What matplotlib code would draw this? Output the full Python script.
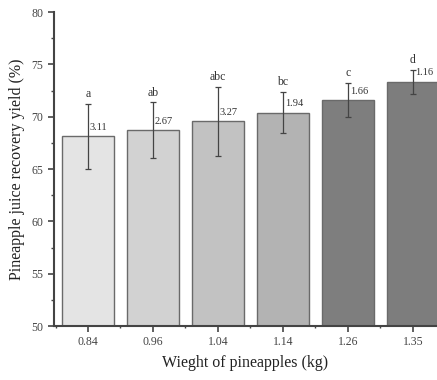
import matplotlib
matplotlib.use('Agg')
import matplotlib.pyplot as plt
from matplotlib.ticker import MultipleLocator

weights = ['0.84', '0.96', '1.04', '1.14', '1.26', '1.35']
yield_mean = [68.15, 68.7, 69.55, 70.4, 71.6, 73.35]
yield_sd = [3.11, 2.67, 3.27, 1.94, 1.66, 1.16]
letters = ['a', 'ab', 'abc', 'bc', 'c', 'd']
bar_colors = ['#e4e4e4', '#d2d2d2', '#c2c2c2', '#b3b3b3', '#7e7e7e', '#7d7d7d']

plt.rcParams['font.family'] = ['Liberation Serif', 'DejaVu Serif']

fig = plt.figure(figsize=(4.37, 3.8), dpi=100)
ax = fig.add_axes([0.1236, 0.142, 0.8764, 0.826])

x = list(range(len(weights)))
ax.bar(x, [m - 50 for m in yield_mean], bottom=50, width=0.8,
       color=bar_colors, edgecolor='#6a6a6a', linewidth=1.0, zorder=2)
ax.errorbar(x, yield_mean, yerr=yield_sd, fmt='none', ecolor='#444444',
            elinewidth=0.9, capsize=2.2, capthick=0.9, zorder=3)

for i in x:
    ax.text(i, yield_mean[i] + yield_sd[i] + 0.95, letters[i], ha='center',
            va='center', fontsize=8.5, color='#333333')
    ax.text(i + 0.03, yield_mean[i] + 0.85, '%.2f' % yield_sd[i], ha='left',
            va='center', fontsize=7.5, color='#333333')

ax.set_xlim(-0.523, 5.37)
ax.set_ylim(50, 80)
ax.set_xticks(x)
ax.set_xticklabels(weights)
ax.xaxis.set_minor_locator(MultipleLocator(0.5))
ax.yaxis.set_major_locator(MultipleLocator(5))
ax.yaxis.set_minor_locator(MultipleLocator(2.5))

for side in ['top', 'right']:
    ax.spines[side].set_visible(False)
for side in ['left', 'bottom']:
    ax.spines[side].set_color('#444444')
    ax.spines[side].set_linewidth(1.5)

ax.tick_params(axis='both', which='major', direction='out', length=4,
               width=1.2, color='#444444', labelsize=8.5, labelcolor='#444444')
ax.tick_params(axis='both', which='minor', direction='out', length=2,
               width=1.0, color='#444444')
ax.tick_params(axis='x', which='minor', length=1.5)

ax.set_xlabel('Wieght of pineapples (kg)', fontsize=11.5, color='#222222', labelpad=5)
ax.set_ylabel('Pineapple juice recovery yield (%)', fontsize=11.5, color='#222222', labelpad=5)

fig.savefig('out.png', dpi=100)
